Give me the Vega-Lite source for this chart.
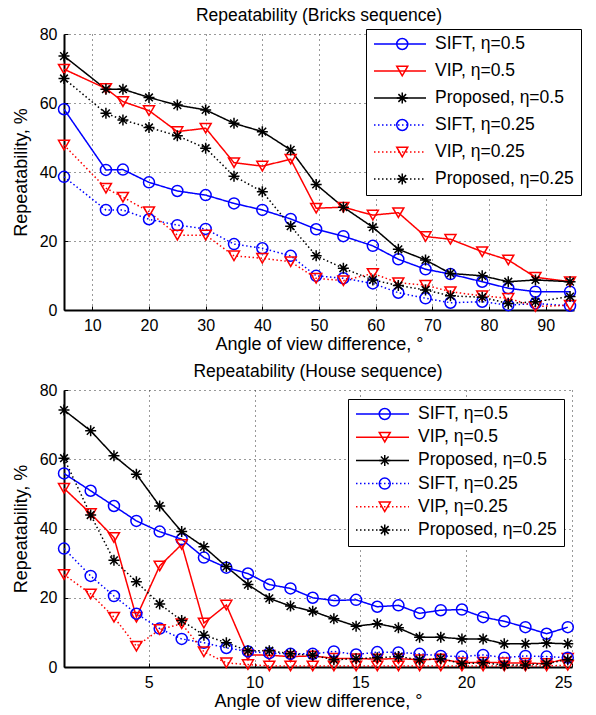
{
  "$schema": "https://vega.github.io/schema/vega-lite/v6.json",
  "padding": {"left": 12, "top": 6, "right": 0, "bottom": 0},
  "spacing": 9,
  "config": {
    "font": "Liberation Sans",
    "view": {"stroke": null},
    "axis": {
      "domainColor": "#000", "domainWidth": 2, "grid": true, "gridColor": "#333", "gridDash": [1, 4], "gridWidth": 1,
      "tickColor": "#000", "tickSize": -4, "tickWidth": 1, "labelPadding": 11,
      "labelFontSize": 16, "labelColor": "#000", "titleFontSize": 18, "titleFontWeight": "normal", "titleColor": "#000"
    },
    "axisX": {"titlePadding": 2},
    "title": {"fontSize": 17.5, "fontWeight": "normal", "color": "#000", "offset": 2},
    "legend": {
      "orient": "none", "title": null, "clipHeight": 16, "padding": 7,
      "labelFontSize": 17.5, "labelColor": "#000", "labelLimit": 0, "labelOffset": 8,
      "symbolStrokeWidth": 1.5
    }
  },
  "datasets": {
    "bricks": [
      {"s": "SIFT, η=0.5", "x": 5, "y": 58.2}, {"s": "SIFT, η=0.5", "x": 12.4, "y": 40.6}, {"s": "SIFT, η=0.5", "x": 15.4, "y": 40.7}, {"s": "SIFT, η=0.5", "x": 20, "y": 37.0}, {"s": "SIFT, η=0.5", "x": 25, "y": 34.5}, {"s": "SIFT, η=0.5", "x": 30, "y": 33.3}, {"s": "SIFT, η=0.5", "x": 35, "y": 30.9}, {"s": "SIFT, η=0.5", "x": 40, "y": 29.0}, {"s": "SIFT, η=0.5", "x": 45, "y": 26.4}, {"s": "SIFT, η=0.5", "x": 49.5, "y": 23.4}, {"s": "SIFT, η=0.5", "x": 54.3, "y": 21.4}, {"s": "SIFT, η=0.5", "x": 59.5, "y": 18.6}, {"s": "SIFT, η=0.5", "x": 64, "y": 14.7}, {"s": "SIFT, η=0.5", "x": 68.8, "y": 11.8}, {"s": "SIFT, η=0.5", "x": 73.2, "y": 10.4}, {"s": "SIFT, η=0.5", "x": 78.8, "y": 8.2}, {"s": "SIFT, η=0.5", "x": 83.4, "y": 6.3}, {"s": "SIFT, η=0.5", "x": 88.2, "y": 5.3}, {"s": "SIFT, η=0.5", "x": 94.3, "y": 5.3},
      {"s": "VIP, η=0.5", "x": 5, "y": 69.8}, {"s": "VIP, η=0.5", "x": 12.4, "y": 64.2}, {"s": "VIP, η=0.5", "x": 15.4, "y": 60.4}, {"s": "VIP, η=0.5", "x": 20, "y": 57.8}, {"s": "VIP, η=0.5", "x": 25, "y": 51.7}, {"s": "VIP, η=0.5", "x": 30, "y": 52.7}, {"s": "VIP, η=0.5", "x": 35, "y": 42.7}, {"s": "VIP, η=0.5", "x": 40, "y": 41.7}, {"s": "VIP, η=0.5", "x": 45, "y": 43.7}, {"s": "VIP, η=0.5", "x": 49.5, "y": 29.5}, {"s": "VIP, η=0.5", "x": 54.3, "y": 29.8}, {"s": "VIP, η=0.5", "x": 59.5, "y": 27.5}, {"s": "VIP, η=0.5", "x": 64, "y": 28.2}, {"s": "VIP, η=0.5", "x": 68.8, "y": 21.3}, {"s": "VIP, η=0.5", "x": 73.2, "y": 20.5}, {"s": "VIP, η=0.5", "x": 78.8, "y": 16.9}, {"s": "VIP, η=0.5", "x": 83.4, "y": 14.5}, {"s": "VIP, η=0.5", "x": 88.2, "y": 9.5}, {"s": "VIP, η=0.5", "x": 94.3, "y": 8.2},
      {"s": "Proposed, η=0.5", "x": 5, "y": 73.6}, {"s": "Proposed, η=0.5", "x": 12.4, "y": 64.0}, {"s": "Proposed, η=0.5", "x": 15.4, "y": 64.0}, {"s": "Proposed, η=0.5", "x": 20, "y": 61.6}, {"s": "Proposed, η=0.5", "x": 25, "y": 59.4}, {"s": "Proposed, η=0.5", "x": 30, "y": 58.0}, {"s": "Proposed, η=0.5", "x": 35, "y": 54.1}, {"s": "Proposed, η=0.5", "x": 40, "y": 51.7}, {"s": "Proposed, η=0.5", "x": 45, "y": 46.4}, {"s": "Proposed, η=0.5", "x": 49.5, "y": 36.4}, {"s": "Proposed, η=0.5", "x": 54.3, "y": 29.8}, {"s": "Proposed, η=0.5", "x": 59.5, "y": 24.0}, {"s": "Proposed, η=0.5", "x": 64, "y": 17.6}, {"s": "Proposed, η=0.5", "x": 68.8, "y": 14.5}, {"s": "Proposed, η=0.5", "x": 73.2, "y": 10.6}, {"s": "Proposed, η=0.5", "x": 78.8, "y": 9.9}, {"s": "Proposed, η=0.5", "x": 83.4, "y": 8.2}, {"s": "Proposed, η=0.5", "x": 88.2, "y": 8.7}, {"s": "Proposed, η=0.5", "x": 94.3, "y": 8.2},
      {"s": "SIFT, η=0.25", "x": 5, "y": 38.6}, {"s": "SIFT, η=0.25", "x": 12.4, "y": 29.0}, {"s": "SIFT, η=0.25", "x": 15.4, "y": 29.0}, {"s": "SIFT, η=0.25", "x": 20, "y": 26.3}, {"s": "SIFT, η=0.25", "x": 25, "y": 24.6}, {"s": "SIFT, η=0.25", "x": 30, "y": 23.5}, {"s": "SIFT, η=0.25", "x": 35, "y": 19.1}, {"s": "SIFT, η=0.25", "x": 40, "y": 17.9}, {"s": "SIFT, η=0.25", "x": 45, "y": 15.7}, {"s": "SIFT, η=0.25", "x": 49.5, "y": 9.9}, {"s": "SIFT, η=0.25", "x": 54.3, "y": 9.2}, {"s": "SIFT, η=0.25", "x": 59.5, "y": 7.7}, {"s": "SIFT, η=0.25", "x": 64, "y": 5.0}, {"s": "SIFT, η=0.25", "x": 68.8, "y": 3.4}, {"s": "SIFT, η=0.25", "x": 73.2, "y": 2.1}, {"s": "SIFT, η=0.25", "x": 78.8, "y": 2.4}, {"s": "SIFT, η=0.25", "x": 83.4, "y": 1.4}, {"s": "SIFT, η=0.25", "x": 88.2, "y": 1.9}, {"s": "SIFT, η=0.25", "x": 94.3, "y": 1.2},
      {"s": "VIP, η=0.25", "x": 5, "y": 47.8}, {"s": "VIP, η=0.25", "x": 12.4, "y": 35.3}, {"s": "VIP, η=0.25", "x": 15.4, "y": 32.7}, {"s": "VIP, η=0.25", "x": 20, "y": 28.5}, {"s": "VIP, η=0.25", "x": 25, "y": 21.7}, {"s": "VIP, η=0.25", "x": 30, "y": 21.7}, {"s": "VIP, η=0.25", "x": 35, "y": 15.7}, {"s": "VIP, η=0.25", "x": 40, "y": 15.0}, {"s": "VIP, η=0.25", "x": 45, "y": 14.0}, {"s": "VIP, η=0.25", "x": 49.5, "y": 9.2}, {"s": "VIP, η=0.25", "x": 54.3, "y": 8.5}, {"s": "VIP, η=0.25", "x": 59.5, "y": 10.6}, {"s": "VIP, η=0.25", "x": 64, "y": 7.9}, {"s": "VIP, η=0.25", "x": 68.8, "y": 7.2}, {"s": "VIP, η=0.25", "x": 73.2, "y": 5.3}, {"s": "VIP, η=0.25", "x": 78.8, "y": 4.1}, {"s": "VIP, η=0.25", "x": 83.4, "y": 3.4}, {"s": "VIP, η=0.25", "x": 88.2, "y": 1.0}, {"s": "VIP, η=0.25", "x": 94.3, "y": 1.4},
      {"s": "Proposed, η=0.25", "x": 5, "y": 67.1}, {"s": "Proposed, η=0.25", "x": 12.4, "y": 57.0}, {"s": "Proposed, η=0.25", "x": 15.4, "y": 55.1}, {"s": "Proposed, η=0.25", "x": 20, "y": 52.9}, {"s": "Proposed, η=0.25", "x": 25, "y": 50.5}, {"s": "Proposed, η=0.25", "x": 30, "y": 46.9}, {"s": "Proposed, η=0.25", "x": 35, "y": 38.8}, {"s": "Proposed, η=0.25", "x": 40, "y": 34.3}, {"s": "Proposed, η=0.25", "x": 45, "y": 24.3}, {"s": "Proposed, η=0.25", "x": 49.5, "y": 15.7}, {"s": "Proposed, η=0.25", "x": 54.3, "y": 12.1}, {"s": "Proposed, η=0.25", "x": 59.5, "y": 8.7}, {"s": "Proposed, η=0.25", "x": 64, "y": 7.1}, {"s": "Proposed, η=0.25", "x": 68.8, "y": 5.8}, {"s": "Proposed, η=0.25", "x": 73.2, "y": 4.1}, {"s": "Proposed, η=0.25", "x": 78.8, "y": 3.7}, {"s": "Proposed, η=0.25", "x": 83.4, "y": 1.9}, {"s": "Proposed, η=0.25", "x": 88.2, "y": 2.4}, {"s": "Proposed, η=0.25", "x": 94.3, "y": 3.9}
    ],
    "house": [
      {"s": "SIFT, η=0.5", "x": 1.0, "y": 55.9}, {"s": "SIFT, η=0.5", "x": 2.26, "y": 50.9}, {"s": "SIFT, η=0.5", "x": 3.36, "y": 46.5}, {"s": "SIFT, η=0.5", "x": 4.42, "y": 42.2}, {"s": "SIFT, η=0.5", "x": 5.52, "y": 39.1}, {"s": "SIFT, η=0.5", "x": 6.56, "y": 36.9}, {"s": "SIFT, η=0.5", "x": 7.61, "y": 31.6}, {"s": "SIFT, η=0.5", "x": 8.67, "y": 28.7}, {"s": "SIFT, η=0.5", "x": 9.69, "y": 27.0}, {"s": "SIFT, η=0.5", "x": 10.7, "y": 23.8}, {"s": "SIFT, η=0.5", "x": 11.7, "y": 22.7}, {"s": "SIFT, η=0.5", "x": 12.75, "y": 20.0}, {"s": "SIFT, η=0.5", "x": 13.75, "y": 19.2}, {"s": "SIFT, η=0.5", "x": 14.8, "y": 19.4}, {"s": "SIFT, η=0.5", "x": 15.8, "y": 17.4}, {"s": "SIFT, η=0.5", "x": 16.8, "y": 17.8}, {"s": "SIFT, η=0.5", "x": 17.8, "y": 15.5}, {"s": "SIFT, η=0.5", "x": 18.8, "y": 16.4}, {"s": "SIFT, η=0.5", "x": 19.8, "y": 16.6}, {"s": "SIFT, η=0.5", "x": 20.8, "y": 14.4}, {"s": "SIFT, η=0.5", "x": 21.8, "y": 13.2}, {"s": "SIFT, η=0.5", "x": 22.8, "y": 11.5}, {"s": "SIFT, η=0.5", "x": 23.8, "y": 9.6}, {"s": "SIFT, η=0.5", "x": 24.8, "y": 11.5},
      {"s": "VIP, η=0.5", "x": 1.0, "y": 51.6}, {"s": "VIP, η=0.5", "x": 2.26, "y": 44.3}, {"s": "VIP, η=0.5", "x": 3.36, "y": 37.4}, {"s": "VIP, η=0.5", "x": 4.42, "y": 14.4}, {"s": "VIP, η=0.5", "x": 5.52, "y": 29.2}, {"s": "VIP, η=0.5", "x": 6.56, "y": 35.4}, {"s": "VIP, η=0.5", "x": 7.61, "y": 12.7}, {"s": "VIP, η=0.5", "x": 8.67, "y": 17.9}, {"s": "VIP, η=0.5", "x": 9.69, "y": 3.5}, {"s": "VIP, η=0.5", "x": 10.7, "y": 3.4}, {"s": "VIP, η=0.5", "x": 11.7, "y": 3.0}, {"s": "VIP, η=0.5", "x": 12.75, "y": 3.2}, {"s": "VIP, η=0.5", "x": 13.75, "y": 2.5}, {"s": "VIP, η=0.5", "x": 14.8, "y": 2.4}, {"s": "VIP, η=0.5", "x": 15.8, "y": 2.3}, {"s": "VIP, η=0.5", "x": 16.8, "y": 2.4}, {"s": "VIP, η=0.5", "x": 17.8, "y": 2.1}, {"s": "VIP, η=0.5", "x": 18.8, "y": 2.3}, {"s": "VIP, η=0.5", "x": 19.8, "y": 1.2}, {"s": "VIP, η=0.5", "x": 20.8, "y": 1.4}, {"s": "VIP, η=0.5", "x": 21.8, "y": 1.2}, {"s": "VIP, η=0.5", "x": 22.8, "y": 1.1}, {"s": "VIP, η=0.5", "x": 23.8, "y": 1.0}, {"s": "VIP, η=0.5", "x": 24.8, "y": 2.5},
      {"s": "Proposed, η=0.5", "x": 1.0, "y": 74.2}, {"s": "Proposed, η=0.5", "x": 2.26, "y": 68.2}, {"s": "Proposed, η=0.5", "x": 3.36, "y": 61.0}, {"s": "Proposed, η=0.5", "x": 4.42, "y": 55.7}, {"s": "Proposed, η=0.5", "x": 5.52, "y": 46.5}, {"s": "Proposed, η=0.5", "x": 6.56, "y": 39.1}, {"s": "Proposed, η=0.5", "x": 7.61, "y": 34.7}, {"s": "Proposed, η=0.5", "x": 8.67, "y": 29.0}, {"s": "Proposed, η=0.5", "x": 9.69, "y": 23.8}, {"s": "Proposed, η=0.5", "x": 10.7, "y": 19.8}, {"s": "Proposed, η=0.5", "x": 11.7, "y": 17.6}, {"s": "Proposed, η=0.5", "x": 12.75, "y": 16.1}, {"s": "Proposed, η=0.5", "x": 13.75, "y": 13.9}, {"s": "Proposed, η=0.5", "x": 14.8, "y": 11.8}, {"s": "Proposed, η=0.5", "x": 15.8, "y": 12.5}, {"s": "Proposed, η=0.5", "x": 16.8, "y": 11.3}, {"s": "Proposed, η=0.5", "x": 17.8, "y": 8.6}, {"s": "Proposed, η=0.5", "x": 18.8, "y": 8.6}, {"s": "Proposed, η=0.5", "x": 19.8, "y": 8.1}, {"s": "Proposed, η=0.5", "x": 20.8, "y": 8.1}, {"s": "Proposed, η=0.5", "x": 21.8, "y": 6.7}, {"s": "Proposed, η=0.5", "x": 22.8, "y": 6.7}, {"s": "Proposed, η=0.5", "x": 23.8, "y": 6.9}, {"s": "Proposed, η=0.5", "x": 24.8, "y": 6.7},
      {"s": "SIFT, η=0.25", "x": 1.0, "y": 34.2}, {"s": "SIFT, η=0.25", "x": 2.26, "y": 26.3}, {"s": "SIFT, η=0.25", "x": 3.36, "y": 20.5}, {"s": "SIFT, η=0.25", "x": 4.42, "y": 15.4}, {"s": "SIFT, η=0.25", "x": 5.52, "y": 11.1}, {"s": "SIFT, η=0.25", "x": 6.56, "y": 8.1}, {"s": "SIFT, η=0.25", "x": 7.61, "y": 7.0}, {"s": "SIFT, η=0.25", "x": 8.67, "y": 5.5}, {"s": "SIFT, η=0.25", "x": 9.69, "y": 4.5}, {"s": "SIFT, η=0.25", "x": 10.7, "y": 4.0}, {"s": "SIFT, η=0.25", "x": 11.7, "y": 3.8}, {"s": "SIFT, η=0.25", "x": 12.75, "y": 3.8}, {"s": "SIFT, η=0.25", "x": 13.75, "y": 4.5}, {"s": "SIFT, η=0.25", "x": 14.8, "y": 3.6}, {"s": "SIFT, η=0.25", "x": 15.8, "y": 4.3}, {"s": "SIFT, η=0.25", "x": 16.8, "y": 4.2}, {"s": "SIFT, η=0.25", "x": 17.8, "y": 3.8}, {"s": "SIFT, η=0.25", "x": 18.8, "y": 3.2}, {"s": "SIFT, η=0.25", "x": 19.8, "y": 3.0}, {"s": "SIFT, η=0.25", "x": 20.8, "y": 3.5}, {"s": "SIFT, η=0.25", "x": 21.8, "y": 2.7}, {"s": "SIFT, η=0.25", "x": 22.8, "y": 3.2}, {"s": "SIFT, η=0.25", "x": 23.8, "y": 3.0}, {"s": "SIFT, η=0.25", "x": 24.8, "y": 2.7},
      {"s": "VIP, η=0.25", "x": 1.0, "y": 26.7}, {"s": "VIP, η=0.25", "x": 2.26, "y": 21.1}, {"s": "VIP, η=0.25", "x": 3.36, "y": 14.4}, {"s": "VIP, η=0.25", "x": 4.42, "y": 6.0}, {"s": "VIP, η=0.25", "x": 5.52, "y": 10.8}, {"s": "VIP, η=0.25", "x": 6.56, "y": 12.5}, {"s": "VIP, η=0.25", "x": 7.61, "y": 4.4}, {"s": "VIP, η=0.25", "x": 8.67, "y": 1.2}, {"s": "VIP, η=0.25", "x": 9.69, "y": 0.7}, {"s": "VIP, η=0.25", "x": 10.7, "y": 0.3}, {"s": "VIP, η=0.25", "x": 11.7, "y": 0.3}, {"s": "VIP, η=0.25", "x": 12.75, "y": 0.3}, {"s": "VIP, η=0.25", "x": 13.75, "y": 0.3}, {"s": "VIP, η=0.25", "x": 14.8, "y": 0.3}, {"s": "VIP, η=0.25", "x": 15.8, "y": 0.3}, {"s": "VIP, η=0.25", "x": 16.8, "y": 0.3}, {"s": "VIP, η=0.25", "x": 17.8, "y": 0.3}, {"s": "VIP, η=0.25", "x": 18.8, "y": 0.3}, {"s": "VIP, η=0.25", "x": 19.8, "y": 0.3}, {"s": "VIP, η=0.25", "x": 20.8, "y": 0.3}, {"s": "VIP, η=0.25", "x": 21.8, "y": 0.3}, {"s": "VIP, η=0.25", "x": 22.8, "y": 0.3}, {"s": "VIP, η=0.25", "x": 23.8, "y": 0.3}, {"s": "VIP, η=0.25", "x": 24.8, "y": 0.5},
      {"s": "Proposed, η=0.25", "x": 1.0, "y": 60.3}, {"s": "Proposed, η=0.25", "x": 2.26, "y": 43.9}, {"s": "Proposed, η=0.25", "x": 3.36, "y": 30.8}, {"s": "Proposed, η=0.25", "x": 4.42, "y": 24.6}, {"s": "Proposed, η=0.25", "x": 5.52, "y": 18.2}, {"s": "Proposed, η=0.25", "x": 6.56, "y": 13.4}, {"s": "Proposed, η=0.25", "x": 7.61, "y": 9.2}, {"s": "Proposed, η=0.25", "x": 8.67, "y": 7.0}, {"s": "Proposed, η=0.25", "x": 9.69, "y": 4.7}, {"s": "Proposed, η=0.25", "x": 10.7, "y": 4.7}, {"s": "Proposed, η=0.25", "x": 11.7, "y": 3.8}, {"s": "Proposed, η=0.25", "x": 12.75, "y": 3.4}, {"s": "Proposed, η=0.25", "x": 13.75, "y": 2.1}, {"s": "Proposed, η=0.25", "x": 14.8, "y": 2.4}, {"s": "Proposed, η=0.25", "x": 15.8, "y": 2.7}, {"s": "Proposed, η=0.25", "x": 16.8, "y": 3.0}, {"s": "Proposed, η=0.25", "x": 17.8, "y": 2.1}, {"s": "Proposed, η=0.25", "x": 18.8, "y": 2.4}, {"s": "Proposed, η=0.25", "x": 19.8, "y": 1.0}, {"s": "Proposed, η=0.25", "x": 20.8, "y": 1.2}, {"s": "Proposed, η=0.25", "x": 21.8, "y": 0.6}, {"s": "Proposed, η=0.25", "x": 22.8, "y": 0.6}, {"s": "Proposed, η=0.25", "x": 23.8, "y": 1.0}, {"s": "Proposed, η=0.25", "x": 24.8, "y": 2.1}
    ]
  },
  "resolve": {
    "scale": {"x": "independent", "y": "independent", "color": "independent", "stroke": "independent", "shape": "independent", "strokeDash": "independent"},
    "legend": {"color": "independent", "stroke": "independent", "shape": "independent", "strokeDash": "independent"}
  },
  "vconcat": [
    {
      "width": 510, "height": 276,
      "title": "Repeatability (Bricks sequence)",
      "data": {"name": "bricks"},
      "encoding": {
        "x": {"field": "x", "type": "quantitative", "scale": {"domain": [5, 95], "nice": false, "zero": false}, "axis": {"values": [10, 20, 30, 40, 50, 60, 70, 80, 90], "title": "Angle of view difference, °"}},
        "y": {"field": "y", "type": "quantitative", "scale": {"domain": [0, 80], "nice": false}, "axis": {"values": [0, 20, 40, 60, 80], "title": "Repeatability, %", "titlePadding": 9}}
      },
      "layer": [
        {"mark": {"type": "line", "strokeWidth": 1.5},
         "encoding": {
           "color": {"field": "s", "type": "nominal",
             "scale": {"domain": ["SIFT, η=0.5", "VIP, η=0.5", "Proposed, η=0.5", "SIFT, η=0.25", "VIP, η=0.25", "Proposed, η=0.25"], "range": ["#0000ff", "#ff0000", "#000000", "#0000ff", "#ff0000", "#000000"]},
             "legend": {"legendX": 302, "legendY": -5, "rowPadding": 9, "symbolType": "stroke", "symbolSize": 2704, "strokeColor": "#000", "fillColor": "#fff",
               "encode": {"legend": {"strokeWidth": {"value": 2}}}}},
           "strokeDash": {"field": "s", "type": "nominal", "scale": {"domain": ["SIFT, η=0.5", "VIP, η=0.5", "Proposed, η=0.5", "SIFT, η=0.25", "VIP, η=0.25", "Proposed, η=0.25"], "range": [[1, 0], [1, 0], [1, 0], [1.5, 2.5], [1.5, 2.5], [1.5, 2.5]]}, "legend": null}}},
        {"mark": {"type": "point", "filled": false, "strokeWidth": 1.5, "size": 121, "opacity": 1},
         "encoding": {
           "stroke": {"field": "s", "type": "nominal",
             "scale": {"domain": ["VIP, η=0.5", "SIFT, η=0.5", "Proposed, η=0.5", "SIFT, η=0.25", "VIP, η=0.25", "Proposed, η=0.25"], "range": ["#ff0000", "#0000ff", "#000000", "#0000ff", "#ff0000", "#000000"]},
             "legend": {"legendX": 302, "legendY": -5, "rowPadding": 9, "values": ["SIFT, η=0.5", "VIP, η=0.5", "Proposed, η=0.5", "SIFT, η=0.25", "VIP, η=0.25", "Proposed, η=0.25"], "symbolSize": 121, "symbolOffset": 20.5, "labelOpacity": 0, "labelExpr": "' '"}},
           "shape": {"field": "s", "type": "nominal",
             "scale": {"domain": ["VIP, η=0.5", "SIFT, η=0.5", "Proposed, η=0.5", "SIFT, η=0.25", "VIP, η=0.25", "Proposed, η=0.25"], "range": ["triangle-down", "circle", "M0,-1L0,1M-1,0L1,0M-0.7,-0.7L0.7,0.7M-0.7,0.7L0.7,-0.7", "circle", "triangle-down", "M0,-1L0,1M-1,0L1,0M-0.7,-0.7L0.7,0.7M-0.7,0.7L0.7,-0.7"]},
             "legend": {"legendX": 302, "legendY": -5, "rowPadding": 9, "values": ["SIFT, η=0.5", "VIP, η=0.5", "Proposed, η=0.5", "SIFT, η=0.25", "VIP, η=0.25", "Proposed, η=0.25"], "symbolSize": 121, "symbolOffset": 20.5, "labelOpacity": 0, "labelExpr": "' '"}}}}
      ]
    },
    {
      "width": 508, "height": 277,
      "title": "Repeatability (House sequence)",
      "data": {"name": "house"},
      "encoding": {
        "x": {"field": "x", "type": "quantitative", "scale": {"domain": [1, 25], "nice": false, "zero": false}, "axis": {"values": [5, 10, 15, 20, 25], "title": "Angle of view difference, °"}},
        "y": {"field": "y", "type": "quantitative", "scale": {"domain": [0, 80], "nice": false}, "axis": {"values": [0, 20, 40, 60, 80], "title": "Repeatability, %", "titlePadding": 9}}
      },
      "layer": [
        {"mark": {"type": "line", "strokeWidth": 1.5},
         "encoding": {
           "color": {"field": "s", "type": "nominal",
             "scale": {"domain": ["SIFT, η=0.5", "VIP, η=0.5", "Proposed, η=0.5", "SIFT, η=0.25", "VIP, η=0.25", "Proposed, η=0.25"], "range": ["#0000ff", "#ff0000", "#000000", "#0000ff", "#ff0000", "#000000"]},
             "legend": {"legendX": 284, "legendY": 9, "rowPadding": 5.2, "symbolType": "stroke", "symbolSize": 2809, "strokeColor": "#000", "fillColor": "#fff",
               "encode": {"legend": {"strokeWidth": {"value": 2}}}}},
           "strokeDash": {"field": "s", "type": "nominal", "scale": {"domain": ["SIFT, η=0.5", "VIP, η=0.5", "Proposed, η=0.5", "SIFT, η=0.25", "VIP, η=0.25", "Proposed, η=0.25"], "range": [[1, 0], [1, 0], [1, 0], [1.5, 2.5], [1.5, 2.5], [1.5, 2.5]]}, "legend": null}}},
        {"mark": {"type": "point", "filled": false, "strokeWidth": 1.5, "size": 121, "opacity": 1},
         "encoding": {
           "stroke": {"field": "s", "type": "nominal",
             "scale": {"domain": ["VIP, η=0.5", "SIFT, η=0.5", "Proposed, η=0.5", "SIFT, η=0.25", "VIP, η=0.25", "Proposed, η=0.25"], "range": ["#ff0000", "#0000ff", "#000000", "#0000ff", "#ff0000", "#000000"]},
             "legend": {"legendX": 284, "legendY": 9, "rowPadding": 5.2, "values": ["SIFT, η=0.5", "VIP, η=0.5", "Proposed, η=0.5", "SIFT, η=0.25", "VIP, η=0.25", "Proposed, η=0.25"], "symbolSize": 121, "symbolOffset": 21, "labelOpacity": 0, "labelExpr": "' '"}},
           "shape": {"field": "s", "type": "nominal",
             "scale": {"domain": ["VIP, η=0.5", "SIFT, η=0.5", "Proposed, η=0.5", "SIFT, η=0.25", "VIP, η=0.25", "Proposed, η=0.25"], "range": ["triangle-down", "circle", "M0,-1L0,1M-1,0L1,0M-0.7,-0.7L0.7,0.7M-0.7,0.7L0.7,-0.7", "circle", "triangle-down", "M0,-1L0,1M-1,0L1,0M-0.7,-0.7L0.7,0.7M-0.7,0.7L0.7,-0.7"]},
             "legend": {"legendX": 284, "legendY": 9, "rowPadding": 5.2, "values": ["SIFT, η=0.5", "VIP, η=0.5", "Proposed, η=0.5", "SIFT, η=0.25", "VIP, η=0.25", "Proposed, η=0.25"], "symbolSize": 121, "symbolOffset": 21, "labelOpacity": 0, "labelExpr": "' '"}}}}
      ]
    }
  ]
}
